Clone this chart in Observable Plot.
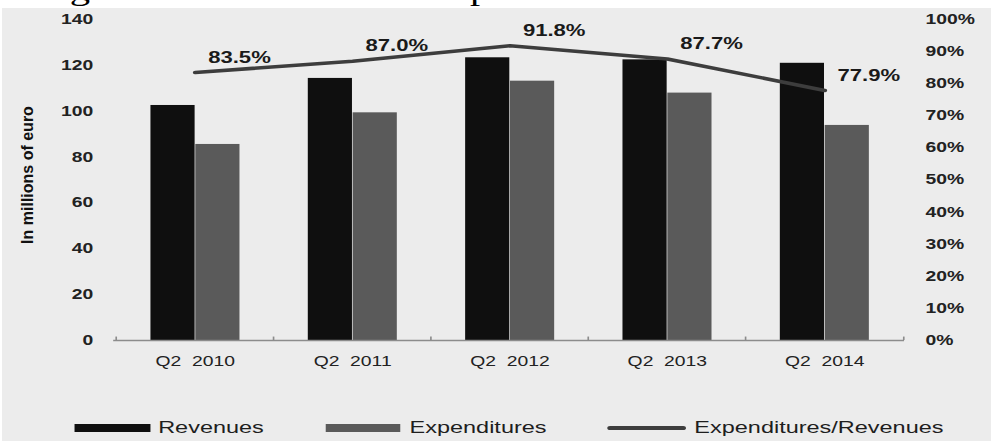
<!DOCTYPE html>
<html>
<head>
<meta charset="utf-8">
<script src="https://cdn.jsdelivr.net/npm/d3@7"></script>
<script src="https://cdn.jsdelivr.net/npm/@observablehq/plot@0.6"></script>
<style>
  html, body { margin:0; padding:0; background:#fff; width:991px; height:441px; overflow:hidden;
    font-family:"Liberation Sans", Arial, sans-serif; }
  #bg { position:absolute; left:2px; top:8px; width:989px; height:433px; background:#ececec; }
  #stage { position:absolute; left:0; top:0; width:718px; height:441px;
    transform:scaleX(1.38022); transform-origin:0 0; }
  #title { position:absolute; left:0; top:0; width:718px; height:8px; overflow:hidden; }
  #title div { position:absolute; left:26px; top:-25px; font-family:"Liberation Serif", serif;
    font-size:29.5px; line-height:30px; white-space:nowrap; color:#000; }
  #chart { position:absolute; left:0; top:8px; }
  #chart svg text { white-space:pre; }
  #legend { position:absolute; left:0; top:418px; height:20px; display:flex; align-items:center;
    font-size:17px; color:#1e1e1e; white-space:nowrap; }
  #legend .sw { display:inline-block; }
  #ytitle { position:absolute; left:28px; top:175px; transform:translate(-50%,-50%) rotate(-90deg);
    font-weight:bold; font-size:16px; white-space:nowrap; color:#111; }
</style>
</head>
<body>
<div id="bg"></div>
<div id="stage">
  <div id="title"><div>Figure 3: Revenues and expenditures of banks</div></div>
  <div id="chart"></div>
  <div id="legend"></div>
</div>
<div id="ytitle"></div>
<script>
// ---- data ----
const categories   = ["Q2 2010", "Q2 2011", "Q2 2012", "Q2 2013", "Q2 2014"];
const revenues     = [102.5, 114.3, 123.3, 122.4, 120.9];
const expenditures = [85.5, 99.3, 113.1, 107.9, 93.8];
const ratioPct     = [83.5, 87.0, 91.8, 87.7, 77.9];
const leftTicks    = [0, 20, 40, 60, 80, 100, 120, 140];
const rightTicks   = [0, 10, 20, 30, 40, 50, 60, 70, 80, 90, 100];
const yTitle       = "In millions of euro";
const seriesNames  = ["Revenues", "Expenditures", "Expenditures/Revenues"];
const seriesColors = ["#0f0f0f", "#5a5a5a", "#3d3d3d"];

// 100% on the right axis lines up with 140 on the left axis
const PCT = 140 / 100;

const rows = categories.map((c, i) => ({
  category: c, revenue: revenues[i], expenditure: expenditures[i], ratio: ratioPct[i]
}));

const W = 718, H = 395, ML = 82, MR = 63, MT = 11, MB = 63;
const BW = (W - ML - MR) / categories.length;

const chart = Plot.plot({
  width: W, height: H,
  marginTop: MT, marginBottom: MB, marginLeft: ML, marginRight: MR,
  style: { background: "transparent", fontFamily: "Liberation Sans, Arial, sans-serif", color: "#222", overflow: "visible" },
  x: { type: "band", domain: categories, padding: 0, axis: null, label: null },
  y: { domain: [0, 140], axis: null, label: null },
  marks: [
    Plot.barY(rows, { x: "category", y: "revenue", fill: seriesColors[0], insetLeft: 25, insetRight: 57 }),
    Plot.barY(rows, { x: "category", y: "expenditure", fill: seriesColors[1], insetLeft: 57.5, insetRight: 24.5 }),
    Plot.ruleY([0], { stroke: "#8c8c8c", strokeWidth: 1.5 }),
    Plot.ruleX(categories, { x: d => d, dx: -BW / 2, y1: 0, y2: 1.5, stroke: "#8c8c8c", strokeWidth: 1.2 }),
    Plot.ruleX(categories.slice(-1), { x: d => d, dx: BW / 2, y1: 0, y2: 1.5, stroke: "#8c8c8c", strokeWidth: 1.2 }),
    Plot.line(rows, { x: "category", y: d => d.ratio * PCT, stroke: seriesColors[2], strokeWidth: 3.5 }),
    Plot.text(rows, { x: "category", y: d => d.ratio * PCT, text: d => d.ratio.toFixed(1) + "%",
      dx: 32, dy: -15, fontWeight: "bold", fontSize: 16, fill: "#1a1a1a" }),
    Plot.axisX({ tickSize: 0, tickPadding: 16, fontSize: 14, label: null,
      tickFormat: d => d.replace(" ", "\u00a0\u00a0") }),
    Plot.axisY(leftTicks, { anchor: "left", tickSize: 0, tickPadding: 15, fontSize: 14, fontWeight: "bold", label: null }),
    Plot.axisY(rightTicks.map(p => p * PCT), { anchor: "right", tickSize: 0, tickPadding: 15, fontSize: 14,
      fontWeight: "bold", label: null, tickFormat: d => Math.round(d / PCT) + "%" })
  ]
});
document.getElementById("chart").appendChild(chart);

document.getElementById("ytitle").textContent = yTitle;

// legend
const legend = document.getElementById("legend");
const swatchSpecs = [
  { w: 55, h: 8, ml: 53.6, gap: 6 },
  { w: 53.6, h: 8, ml: 45, gap: 7 },
  { w: 56.6, h: 4, ml: 44, gap: 6.5 }
];
seriesNames.forEach((name, i) => {
  const s = swatchSpecs[i];
  const sw = document.createElement("span");
  sw.className = "sw";
  sw.style.width = s.w + "px";
  sw.style.height = s.h + "px";
  sw.style.background = seriesColors[i];
  sw.style.marginLeft = s.ml + "px";
  sw.style.marginRight = s.gap + "px";
  if (i === 2) sw.style.borderRadius = "2px";
  const t = document.createElement("span");
  t.textContent = name;
  legend.appendChild(sw);
  legend.appendChild(t);
});
</script>
</body>
</html>
